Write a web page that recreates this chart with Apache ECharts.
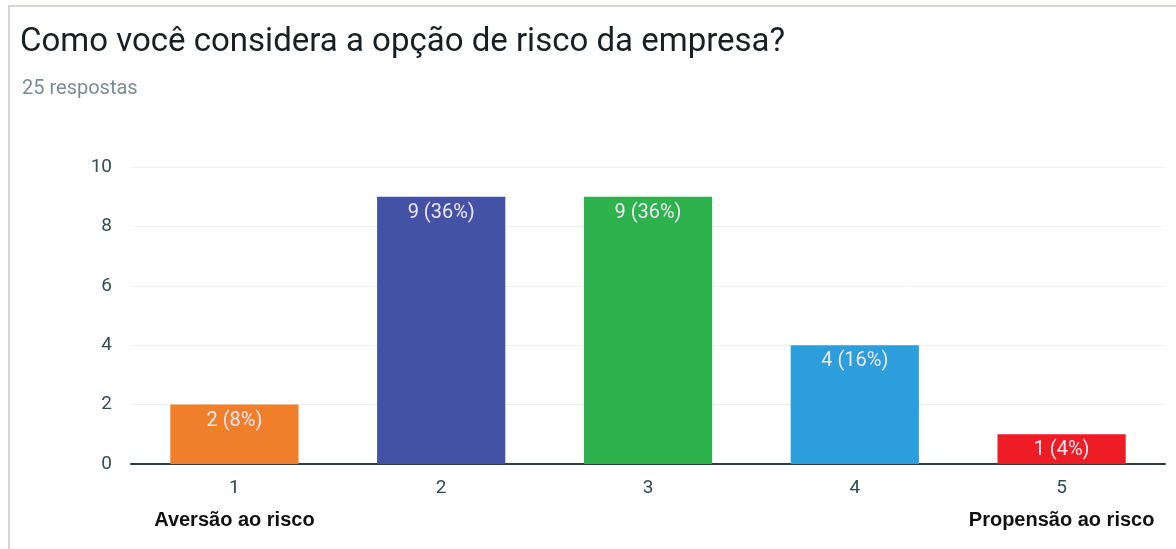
<!DOCTYPE html>
<html>
<head>
<meta charset="utf-8">
<script src="https://cdn.jsdelivr.net/npm/echarts@6/dist/echarts.min.js"></script>
<style>
  html, body { margin: 0; padding: 0; background: #fff; }
  #frame { position: absolute; left: 8px; top: 5px; width: 1168px; height: 544px;
           border-left: 2px solid #d9d4d1; border-top: 2px solid #d9d4d1; box-sizing: border-box; }
  #chart { position: absolute; left: 0; top: 0; width: 1176px; height: 549px; }
</style>
</head>
<body>
<div id="frame"></div>
<div id="chart"></div>
<script>
// Survey answers on a 1–5 scale
const categories = ['1', '2', '3', '4', '5'];
const scaleEnds = { '1': 'Aversão ao risco', '5': 'Propensão ao risco' };
const counts = [2, 9, 9, 4, 1];
const totalAnswers = 25;
const barColors = ['#f07f2b', '#4352a5', '#2db24e', '#2b9edb', '#ee1c25'];
const yTicks = [0, 2, 4, 6, 8, 10];

const chart = echarts.init(document.getElementById('chart'), null, { renderer: 'canvas' });

chart.setOption({
  animation: false,
  textStyle: { fontFamily: 'Roboto, Arial, sans-serif' },
  title: [
    {
      text: 'Como você considera a opção de risco da empresa?',
      left: 15, top: 21,
      textStyle: { fontSize: 33, fontWeight: 'normal', color: '#1a1f24', fontFamily: 'Roboto' }
    },
    {
      text: totalAnswers + ' respostas',
      left: 17, top: 74,
      textStyle: { fontSize: 20, fontWeight: 'normal', color: '#7b8c94', fontFamily: 'Roboto' }
    }
  ],
  grid: { left: 131, right: 11, top: 167, bottom: 85 },
  xAxis: {
    type: 'category',
    data: categories,
    axisTick: { show: false },
    axisLine: { lineStyle: { color: '#2f3b3e', width: 2 } },
    axisLabel: {
      margin: 8,
      interval: 0,
      formatter: v => scaleEnds[v] ? v + '\n{b|' + scaleEnds[v] + '}' : v,
      fontSize: 19,
      color: '#2e4a55',
      lineHeight: 32,
      rich: { b: { fontSize: 20, fontWeight: 'bold', color: '#111', fontFamily: 'Arial, Liberation Sans, sans-serif', lineHeight: 32 } }
    }
  },
  yAxis: {
    type: 'value',
    min: yTicks[0],
    max: yTicks[yTicks.length - 1],
    interval: 2,
    axisLine: { show: false },
    axisTick: { show: false },
    splitLine: { lineStyle: { color: '#eef0f1', width: 1 } },
    axisLabel: { margin: 19, fontSize: 19, color: '#334e58' }
  },
  series: [{
    type: 'bar',
    barWidth: '62%',
    data: counts.map((v, i) => ({ value: v, itemStyle: { color: barColors[i] } })),
    label: {
      show: true,
      position: 'insideTop',
      distance: 6,
      fontSize: 20,
      color: '#eee6f0',
      formatter: p => p.value + ' (' + Math.round(p.value / totalAnswers * 100) + '%)'
    }
  }]
});
</script>
</body>
</html>
